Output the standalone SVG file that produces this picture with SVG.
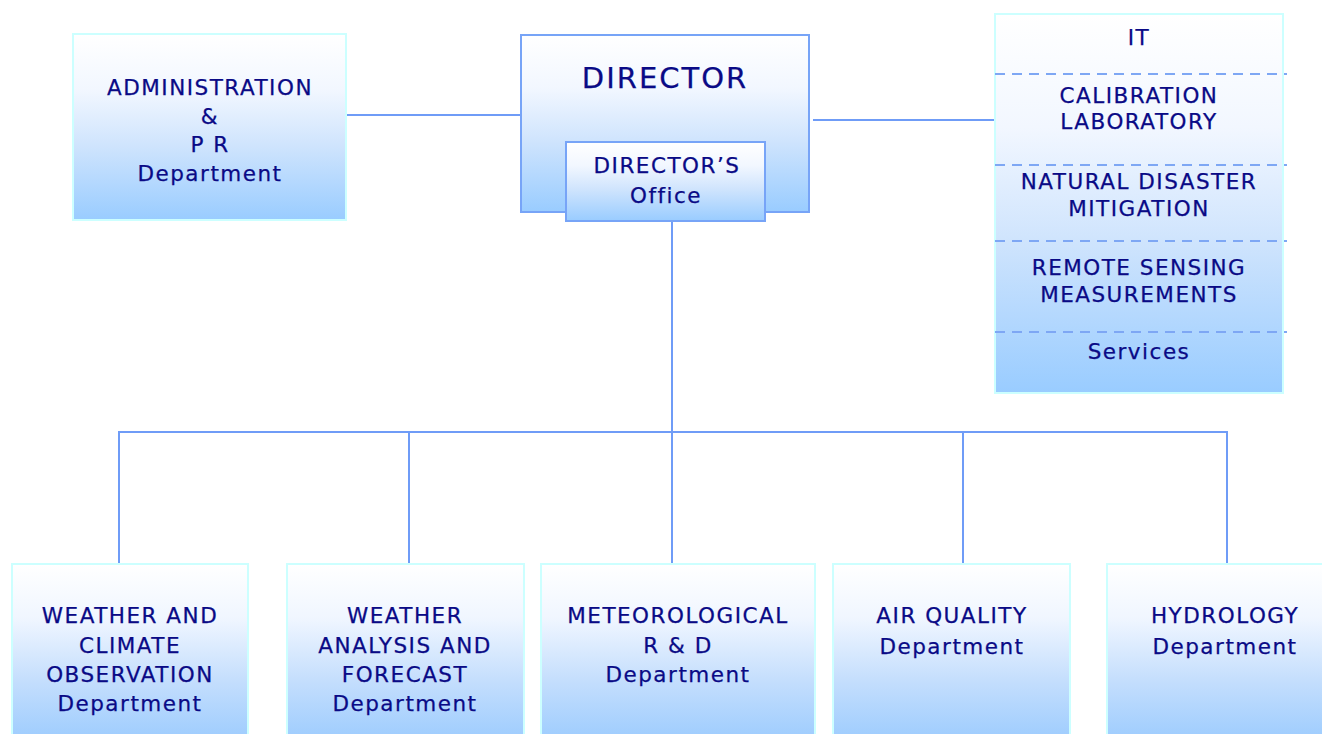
<svg xmlns="http://www.w3.org/2000/svg" width="1322" height="734" viewBox="0 0 1322 734">
<defs>
<linearGradient id="g1" x1="0" y1="0" x2="0" y2="1">
<stop offset="0" stop-color="#ffffff"/>
<stop offset="0.3" stop-color="#f2f7ff"/>
<stop offset="0.6" stop-color="#cfe4fd"/>
<stop offset="1" stop-color="#99ccff"/>
</linearGradient>
<linearGradient id="g2" x1="0" y1="0" x2="0" y2="1">
<stop offset="0" stop-color="#ffffff"/>
<stop offset="0.3" stop-color="#f0f6ff"/>
<stop offset="0.65" stop-color="#c4defd"/>
<stop offset="1" stop-color="#9bcbfe"/>
</linearGradient>
<style>
.lc{fill:url(#g1);stroke:#ccffff;stroke-width:2}
.bl{fill:url(#g1);stroke:#77a4f7;stroke-width:2}
.bt{fill:url(#g2);stroke:#ccffff;stroke-width:2}
.con{stroke:#6f9cf7;stroke-width:2;fill:none}
.dash{stroke:#7ea7f4;stroke-width:2;stroke-dasharray:10 7;fill:none}
text{font-family:"DejaVu Sans","Verdana",sans-serif;font-size:21.5px;fill:#0a0a86;text-anchor:middle;letter-spacing:1.5px;stroke:#0a0a86;stroke-width:0.25}
.big{font-size:29px;letter-spacing:2px}
</style>
</defs>
<rect width="1322" height="734" fill="#ffffff"/>
<g id="connectors">
<line class="con" x1="346" y1="115" x2="521" y2="115"/>
<line class="con" x1="813" y1="120" x2="995" y2="120"/>
<line class="con" x1="672" y1="221" x2="672" y2="432"/>
<line class="con" x1="118" y1="432" x2="1228" y2="432"/>
<line class="con" x1="119" y1="431" x2="119" y2="564"/>
<line class="con" x1="409" y1="432" x2="409" y2="564"/>
<line class="con" x1="672" y1="432" x2="672" y2="564"/>
<line class="con" x1="963" y1="432" x2="963" y2="564"/>
<line class="con" x1="1227" y1="432" x2="1227" y2="564"/>
</g>
<g id="admin">
<rect class="lc" x="73" y="34" width="273" height="186"/>
<text x="210" y="95">ADMINISTRATION</text>
<text x="210" y="124">&amp;</text>
<text x="210" y="152">P R</text>
<text x="210" y="181">Department</text>
</g>
<g id="director">
<rect class="bl" x="521" y="35" width="288" height="177"/>
<text class="big" x="665" y="88">DIRECTOR</text>
</g>
<g id="office">
<rect class="bl" x="566" y="142" width="199" height="79"/>
<text x="667" y="173">DIRECTOR’S</text>
<text x="666" y="203">Office</text>
</g>
<g id="units">
<rect class="lc" x="995" y="14" width="288" height="379"/>
<line class="dash" x1="995" y1="74" x2="1287" y2="74"/>
<line class="dash" x1="995" y1="165" x2="1287" y2="165"/>
<line class="dash" x1="995" y1="241" x2="1287" y2="241"/>
<line class="dash" x1="995" y1="332" x2="1287" y2="332"/>
<text x="1139" y="45">IT</text>
<text x="1139" y="103">CALIBRATION</text>
<text x="1139" y="129">LABORATORY</text>
<text x="1139" y="189">NATURAL DISASTER</text>
<text x="1139" y="216">MITIGATION</text>
<text x="1139" y="275">REMOTE SENSING</text>
<text x="1139" y="302">MEASUREMENTS</text>
<text x="1139" y="359">Services</text>
</g>
<g id="dept1">
<rect class="bt" x="12" y="564" width="236" height="180"/>
<text x="130" y="623">WEATHER AND</text>
<text x="130" y="653">CLIMATE</text>
<text x="130" y="682">OBSERVATION</text>
<text x="130" y="711">Department</text>
</g>
<g id="dept2">
<rect class="bt" x="287" y="564" width="237" height="180"/>
<text x="405" y="623">WEATHER</text>
<text x="405" y="653">ANALYSIS AND</text>
<text x="405" y="682">FORECAST</text>
<text x="405" y="711">Department</text>
</g>
<g id="dept3">
<rect class="bt" x="541" y="564" width="274" height="180"/>
<text x="678" y="623">METEOROLOGICAL</text>
<text x="678" y="653">R &amp; D</text>
<text x="678" y="682">Department</text>
</g>
<g id="dept4">
<rect class="bt" x="833" y="564" width="237" height="180"/>
<text x="952" y="623">AIR QUALITY</text>
<text x="952" y="654">Department</text>
</g>
<g id="dept5">
<rect class="bt" x="1107" y="564" width="237" height="180"/>
<text x="1225" y="623">HYDROLOGY</text>
<text x="1225" y="654">Department</text>
</g>
</svg>
